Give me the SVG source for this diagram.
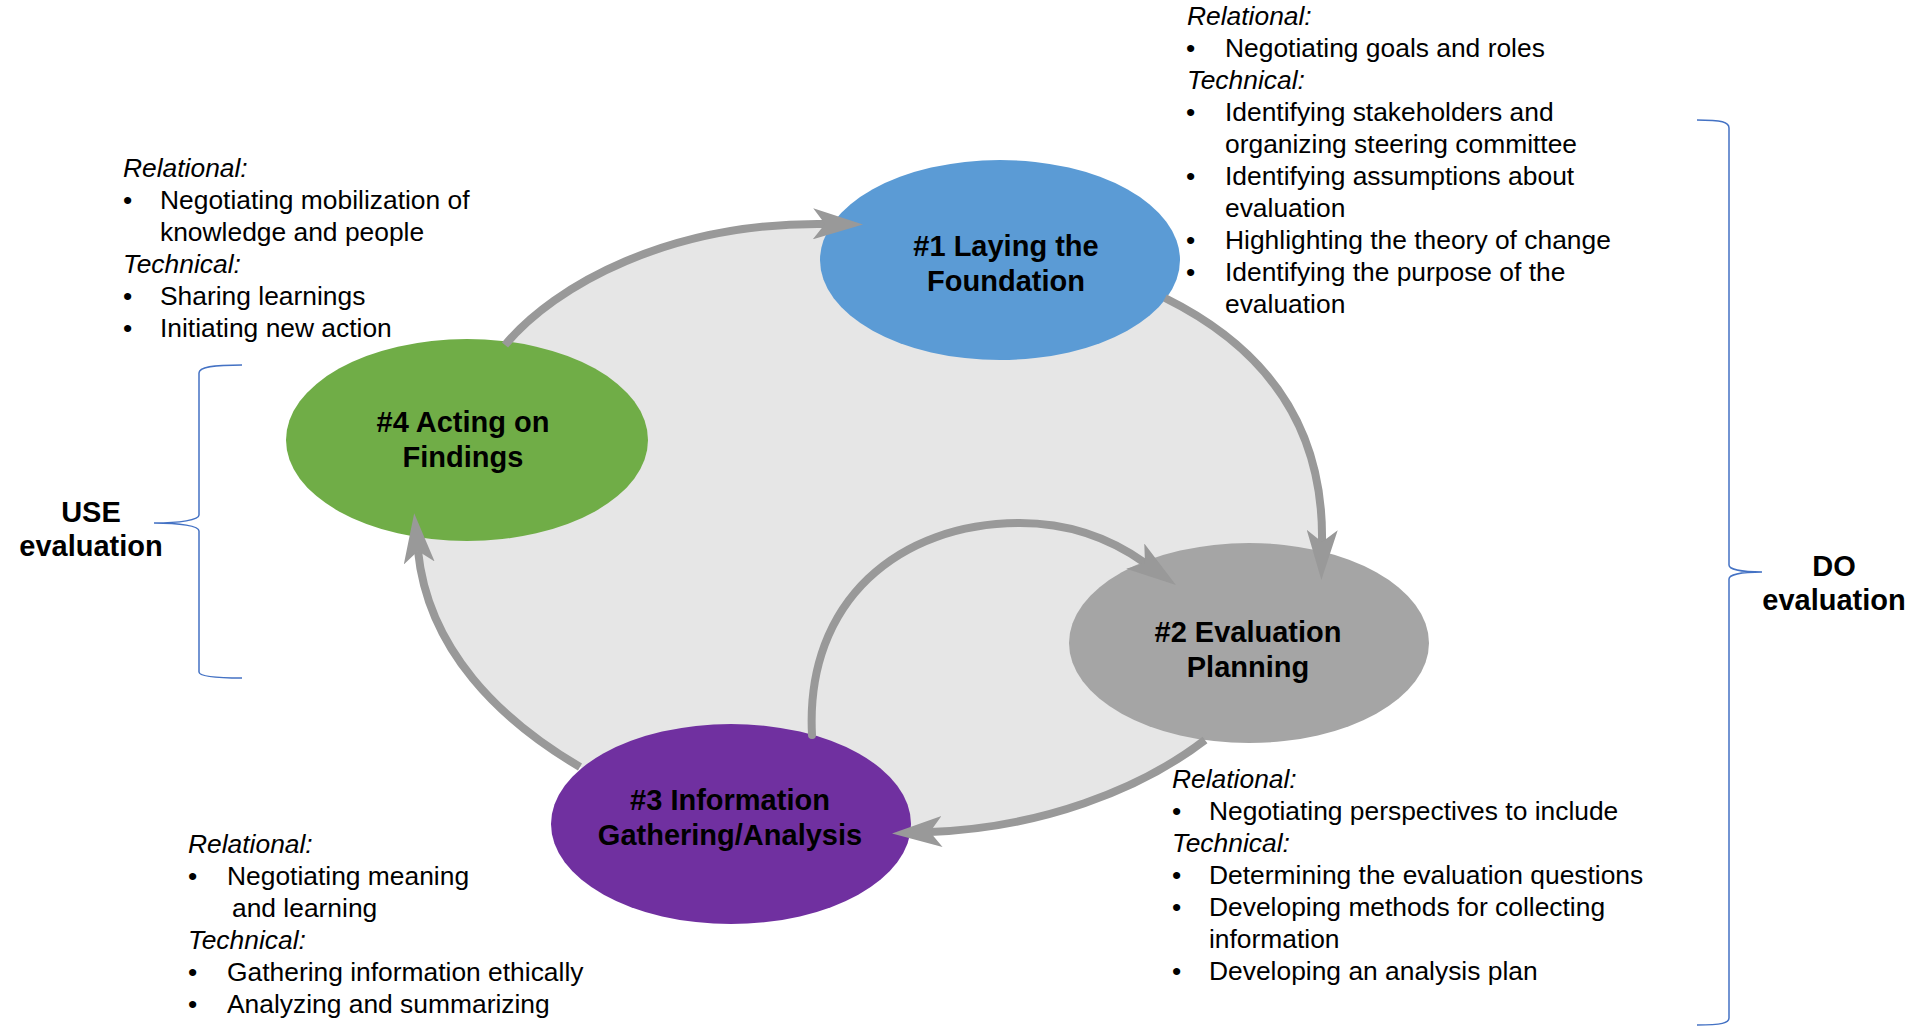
<svg xmlns="http://www.w3.org/2000/svg" width="1918" height="1028" viewBox="0 0 1918 1028">
<style>
.t{font-family:"Liberation Sans",Arial,sans-serif;font-size:26.4px;fill:#000}
.i{font-style:italic}
.nb{font-family:"Liberation Sans",Arial,sans-serif;font-size:29px;font-weight:bold;fill:#000;text-anchor:middle}
.arr{fill:none;stroke:#999;stroke-width:8;marker-end:url(#head)}
.br{fill:none;stroke:#4472C4;stroke-width:1.5}
</style>
<defs>
<marker id="head" viewBox="0 0 50 31" refX="12" refY="15.5" markerWidth="50" markerHeight="31" markerUnits="userSpaceOnUse" orient="auto">
<path d="M0,0 L50,15.5 L0,31 L12,15.5 Z" fill="#999"/>
</marker>
</defs>
<rect width="1918" height="1028" fill="#fff"/>
<path id="backdrop" d="M505,345 C555,285 670,222 825,224 L863,226 L1000,260 L1165,298 C1260,345 1324,420 1322,542 L1320,580 L1249,643 L1205,740 C1140,790 1040,828 930,832 L892,837 L731,824 L580,767 C500,720 428,650 418,551 L415,513 L467,440 Z" fill="#E6E6E6"/>
<g id="node1">
<ellipse cx="1000" cy="260" rx="180" ry="100" fill="#5B9BD5"/>
<text class="nb" x="1006" y="256">#1 Laying the</text>
<text class="nb" x="1006" y="291">Foundation</text>
</g>
<g id="node2">
<ellipse cx="1249" cy="643" rx="180" ry="100" fill="#A5A5A5"/>
<text class="nb" x="1248" y="642">#2 Evaluation</text>
<text class="nb" x="1248" y="677">Planning</text>
</g>
<g id="node3">
<ellipse cx="731" cy="824" rx="180" ry="100" fill="#7030A0"/>
<text class="nb" x="730" y="810">#3 Information</text>
<text class="nb" x="730" y="845">Gathering/Analysis</text>
</g>
<g id="node4">
<ellipse cx="467" cy="440" rx="181" ry="101" fill="#70AD47"/>
<text class="nb" x="463" y="432">#4 Acting on</text>
<text class="nb" x="463" y="467">Findings</text>
</g>
<g id="connectors">
<path class="arr" d="M505,345 C555,285 670,222 825,224"/>
<path class="arr" d="M1165,298 C1260,345 1324,420 1322,542"/>
<path class="arr" d="M1205,740 C1140,790 1040,828 930,832"/>
<path class="arr" d="M580,767 C500,720 428,650 418,551"/>
<path class="arr" style="stroke-linecap:round" d="M812,735 C805,600 900,523 1020,523 C1070,523 1110,538 1145,563"/>
</g>
<g id="notes1">
<text class="t i" x="1187" y="25">Relational:</text>
<text class="t" x="1186" y="57">•</text><text class="t" x="1225" y="57">Negotiating goals and roles</text>
<text class="t i" x="1187" y="89">Technical:</text>
<text class="t" x="1186" y="121">•</text><text class="t" x="1225" y="121">Identifying stakeholders and</text>
<text class="t" x="1225" y="153">organizing steering committee</text>
<text class="t" x="1186" y="185">•</text><text class="t" x="1225" y="185">Identifying assumptions about</text>
<text class="t" x="1225" y="217">evaluation</text>
<text class="t" x="1186" y="249">•</text><text class="t" x="1225" y="249">Highlighting the theory of change</text>
<text class="t" x="1186" y="281">•</text><text class="t" x="1225" y="281">Identifying the purpose of the</text>
<text class="t" x="1225" y="313">evaluation</text>
</g>
<g id="notes4">
<text class="t i" x="123" y="177">Relational:</text>
<text class="t" x="123" y="209">•</text><text class="t" x="160" y="209">Negotiating mobilization of</text>
<text class="t" x="160" y="241">knowledge and people</text>
<text class="t i" x="123" y="273">Technical:</text>
<text class="t" x="123" y="305">•</text><text class="t" x="160" y="305">Sharing learnings</text>
<text class="t" x="123" y="337">•</text><text class="t" x="160" y="337">Initiating new action</text>
</g>
<g id="notes2">
<text class="t i" x="1172" y="788">Relational:</text>
<text class="t" x="1172" y="820">•</text><text class="t" x="1209" y="820">Negotiating perspectives to include</text>
<text class="t i" x="1172" y="852">Technical:</text>
<text class="t" x="1172" y="884">•</text><text class="t" x="1209" y="884">Determining the evaluation questions</text>
<text class="t" x="1172" y="916">•</text><text class="t" x="1209" y="916">Developing methods for collecting</text>
<text class="t" x="1209" y="948">information</text>
<text class="t" x="1172" y="980">•</text><text class="t" x="1209" y="980">Developing an analysis plan</text>
</g>
<g id="notes3">
<text class="t i" x="188" y="853">Relational:</text>
<text class="t" x="188" y="885">•</text><text class="t" x="227" y="885">Negotiating meaning</text>
<text class="t" x="232" y="917">and learning</text>
<text class="t i" x="188" y="949">Technical:</text>
<text class="t" x="188" y="981">•</text><text class="t" x="227" y="981">Gathering information ethically</text>
<text class="t" x="188" y="1013">•</text><text class="t" x="227" y="1013">Analyzing and summarizing</text>
</g>
<g id="use-brace">
<path class="br" d="M242,365 C212,365 199,367 199,373 L199,515 C199,520 180,523 154,523 C180,523 199,526 199,531 L199,672 C199,676 212,678 242,678"/>
<text class="nb" x="91" y="522">USE</text>
<text class="nb" x="91" y="556">evaluation</text>
</g>
<g id="do-brace">
<path class="br" d="M1697,120 C1722,120 1729,122 1729,128 L1729,565 C1729,569 1740,572 1762,572 C1740,572 1729,575 1729,579 L1729,1018 C1729,1023 1722,1025 1697,1025"/>
<text class="nb" x="1834" y="576">DO</text>
<text class="nb" x="1834" y="610">evaluation</text>
</g>
</svg>
